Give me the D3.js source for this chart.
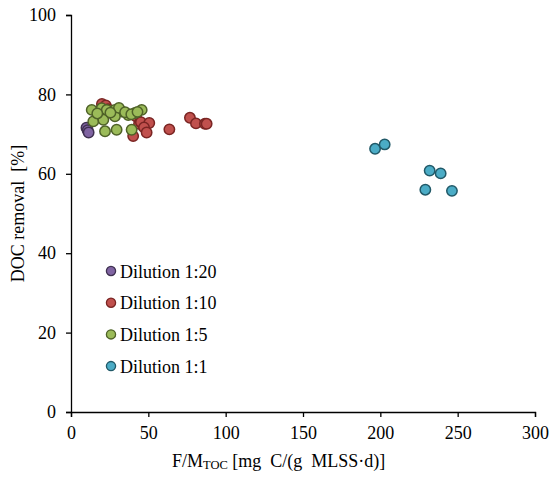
<!DOCTYPE html>
<html>
<head>
<meta charset="utf-8">
<script src="https://cdn.jsdelivr.net/npm/d3@7"></script>
<style>
  html, body { margin: 0; padding: 0; background: #fff; }
  svg { display: block; }
  text { font-family: "Liberation Serif", "Times New Roman", serif; fill: #000; white-space: pre; }
</style>
</head>
<body>
<svg id="chart" width="553" height="477"></svg>
<script>
// F/M_TOC loading vs. DOC removal for the four dilution levels
const seriesNames = ["Dilution 1:20", "Dilution 1:10", "Dilution 1:5", "Dilution 1:1"];
const fillColors = ["#8064A2", "#C0504D", "#9BBB59", "#4BACC6"];
const strokeColors = ["#3F3151", "#7A2523", "#4F6228", "#215968"];

const dil20 = [[10.0, 71.6], [10.8, 71.0], [11.4, 70.4]];
const dil10 = [
  [20.0, 77.6], [22.5, 77.2], [24.0, 76.3], [18.0, 75.5], [28.0, 74.8],
  [42.0, 74.5], [44.0, 72.6], [45.2, 73.0], [50.6, 72.8], [47.2, 71.7],
  [48.9, 70.4], [40.2, 69.5], [63.6, 71.2], [76.9, 74.1], [80.8, 72.7],
  [86.6, 72.6], [87.7, 72.6]
];
const dil5 = [
  [13.4, 76.1], [19.8, 76.5], [23.1, 76.1], [28.4, 76.1], [32.8, 75.7],
  [37.0, 74.8], [41.4, 75.3], [45.7, 76.1], [14.4, 73.2], [20.9, 73.6],
  [28.4, 74.5], [22.0, 70.7], [29.5, 71.1], [39.2, 71.1], [31.0, 76.6],
  [35.0, 75.5], [39.0, 75.0], [43.0, 75.6], [25.5, 75.4], [17.0, 75.2]
];
const dil1 = [
  [196.6, 66.3], [202.8, 67.4], [231.9, 60.8], [239.0, 60.1],
  [229.1, 56.0], [246.3, 55.7]
];
const seriesData = [dil20, dil10, dil5, dil1];

const xTicks = [0, 50, 100, 150, 200, 250, 300];
const yTicks = [0, 20, 40, 60, 80, 100];

const svg = d3.select("#chart");
const margin = { left: 71, right: 18, top: 15, bottom: 65 };
const W = 553, H = 477;

const x = d3.scaleLinear().domain([0, 300]).range([margin.left, W - margin.right]);
const y = d3.scaleLinear().domain([0, 100]).range([H - margin.bottom, margin.top]);

// axes
const xAxis = svg.append("g")
  .attr("transform", `translate(0,${y(0)})`)
  .call(d3.axisBottom(x).tickValues(xTicks).tickSize(5).tickPadding(9));
const yAxis = svg.append("g")
  .attr("transform", `translate(${x(0)},0)`)
  .call(d3.axisLeft(y).tickValues(yTicks).tickSize(5).tickPadding(10));

[xAxis, yAxis].forEach(g => {
  g.select(".domain").attr("stroke", "#000").attr("stroke-width", 1.3);
  g.selectAll(".tick line").attr("stroke", "#000").attr("stroke-width", 1.3);
  g.selectAll(".tick text")
    .attr("font-family", "Liberation Serif, Times New Roman, serif")
    .attr("font-size", 18).attr("fill", "#000");
});

// markers
seriesData.forEach((pts, i) => {
  svg.append("g").selectAll("circle")
    .data(pts).join("circle")
    .attr("cx", d => x(d[0]))
    .attr("cy", d => y(d[1]))
    .attr("r", 5.2)
    .attr("fill", fillColors[i])
    .attr("stroke", strokeColors[i])
    .attr("stroke-width", 1.5);
});

// legend
const legend = svg.append("g").attr("transform", "translate(111,271)");
seriesNames.forEach((name, i) => {
  const row = legend.append("g").attr("transform", `translate(0,${i * 31.7})`);
  row.append("circle").attr("r", 4.6)
    .attr("fill", fillColors[i]).attr("stroke", strokeColors[i]).attr("stroke-width", 1.3);
  row.append("text").attr("x", 9).attr("y", 6.5)
    .attr("font-size", 18).text(name);
});

// axis titles
const xt = svg.append("text").attr("x", 172).attr("y", 467).attr("font-size", 18);
xt.append("tspan").text("F/M");
xt.append("tspan").attr("font-size", 12.5).attr("dy", 2).text("TOC");
xt.append("tspan").attr("dy", -2).text(" [mg  C/(g  MLSS·d)]");

svg.append("text")
  .attr("transform", `translate(24,${(y(0) + y(100)) / 2}) rotate(-90)`)
  .attr("text-anchor", "middle").attr("font-size", 18)
  .text("DOC removal  [%]");
</script>
</body>
</html>
